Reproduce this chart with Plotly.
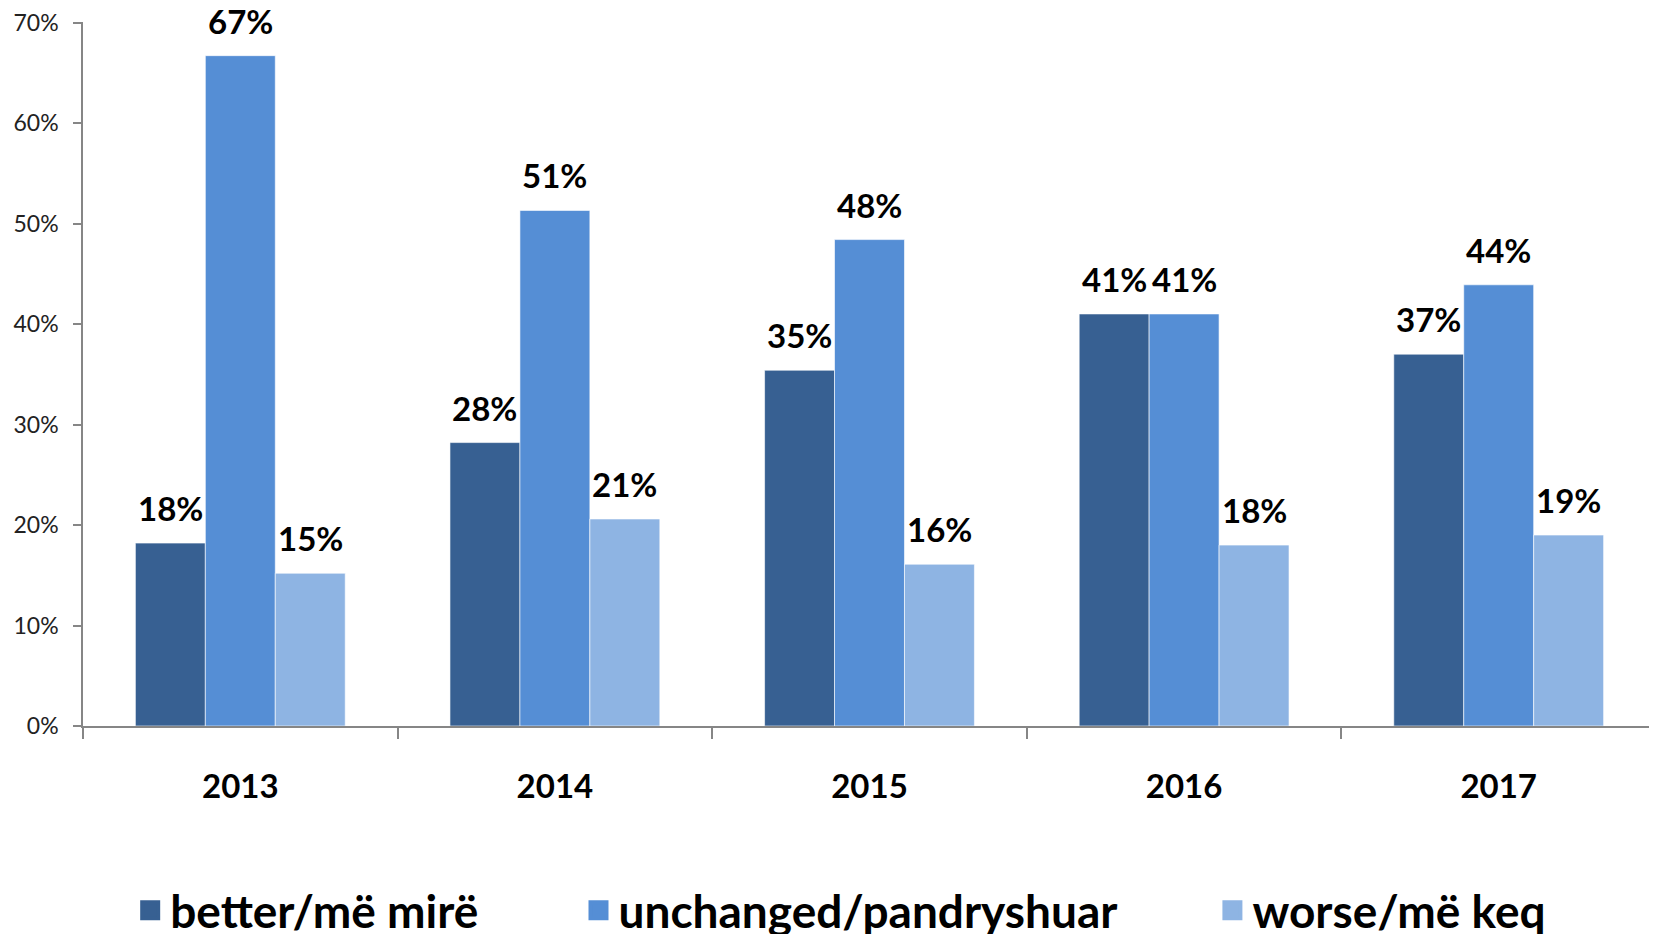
import plotly.graph_objects as go

years = ["2013", "2014", "2015", "2016", "2017"]
better = [0.182, 0.282, 0.354, 0.410, 0.370]
unchanged = [0.667, 0.513, 0.484, 0.410, 0.439]
worse = [0.152, 0.206, 0.161, 0.180, 0.190]
y_ticks = [0.0, 0.1, 0.2, 0.3, 0.4, 0.5, 0.6, 0.7]

series = [
    ("better/më mirë", better, "#376092"),
    ("unchanged/pandryshuar", unchanged, "#558ED5"),
    ("worse/më keq", worse, "#8EB4E3"),
]

FONT = "Lato"
bar_px = 70  # width of one bar in pixels, used to shift labels

fig = go.Figure()
for i, (name, vals, col) in enumerate(series):
    fig.add_trace(go.Bar(x=years, y=vals, name=name, showlegend=False,
                         marker=dict(color=col, line=dict(color="rgba(255,255,255,0.6)", width=1))))

# value labels above the bars (x given as category index)
for i, (name, vals, col) in enumerate(series):
    for j, v in enumerate(vals):
        fig.add_annotation(x=j, y=v, text="{:.0%}".format(v), showarrow=False,
                           xshift=(i - 1) * bar_px, yshift=13, yanchor="bottom",
                           font=dict(family=FONT, size=33, color="black", weight="bold"))

# legend, one box per entry so spacing can follow the picture
legend_x = [0.030, 0.315, 0.718]
for i, (name, vals, col) in enumerate(series):
    lg = "legend" if i == 0 else "legend%d" % (i + 1)
    fig.add_trace(go.Scatter(x=[years[0]], y=[None], mode="markers", name=name, legend=lg,
                             marker=dict(symbol="square", size=16, color=col,
                                         line=dict(color=col, width=4))))
    fig.update_layout(**{lg: dict(x=legend_x[i], y=-0.262, xanchor="left", yanchor="middle",
                                  orientation="h", itemsizing="trace",
                                  font=dict(family=FONT, size=46, color="black", weight="bold"),
                                  bgcolor="rgba(0,0,0,0)")})

# page body has an 8px margin, so the plot area is nudged up/left by that much
fig.update_layout(
    width=1657, height=934,
    margin=dict(l=75, r=9, t=14, b=216, autoexpand=False),
    barmode="group", bargap=0.333, bargroupgap=0,
    plot_bgcolor="white", paper_bgcolor="white",
    font=dict(family=FONT, color="#222222"),
)
fig.update_yaxes(range=[0, 0.7005], tickvals=y_ticks, tickformat=".0%", showgrid=False,
                 showline=True, linecolor="#868686", linewidth=1.5,
                 ticks="outside", ticklen=8, tickcolor="#868686", tickwidth=1.5,
                 ticklabelstandoff=10, ticklabeloverflow="allow",
                 tickfont=dict(family=FONT, size=23, color="#222222"),
                 zeroline=False, automargin=False)
fig.update_xaxes(type="category", range=[-0.5, len(years) - 0.5],
                 showline=True, linecolor="#868686", linewidth=1.5,
                 ticks="outside", ticklen=11, tickcolor="#868686", tickwidth=1.5,
                 tickson="boundaries", ticklabelstandoff=31, automargin=False,
                 tickfont=dict(family=FONT, size=33, color="black", weight="bold"))

fig.write_html("out.html")
